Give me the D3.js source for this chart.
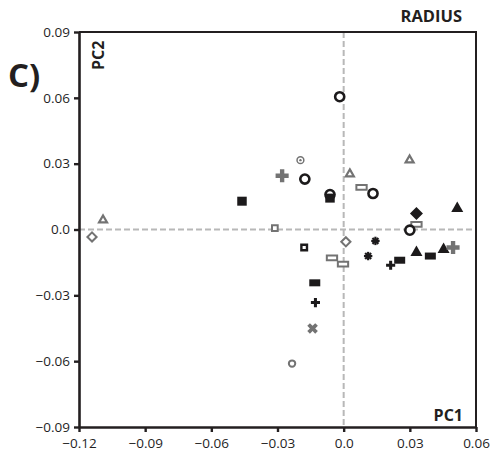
<!DOCTYPE html>
<html><head><meta charset="utf-8">
<script src="https://cdn.jsdelivr.net/npm/d3@7"></script>
<style>
body{margin:0;background:#fff}
svg{display:block}
text{font-family:"Open Sans",sans-serif}
</style>
</head><body>
<svg id="c" width="496" height="456"></svg>
<script>
// ---- data ----
const xTicks = [-0.12, -0.09, -0.06, -0.03, 0, 0.03, 0.06];
const yTicks = [-0.09, -0.06, -0.03, 0, 0.03, 0.06, 0.09];
const markers = [
  "gyDiaO","gyTriO","bkSquareF","gySquareO","bkSquareO","gyPlus","gyBull","bkCircle",
  "bkCircle","bkSquareF","bkCircle","gyTriO","gyRectO","bkCircle","gyTriO","bkTriF",
  "gyRectO","bkCircle","bkDiaF","gyDiaO","bkAst","bkAst","gyRectO","gyRectO",
  "bkRectF","bkPlus","gyX","gyCircleS","bkPlus","bkRectF","bkTriF","bkRectF",
  "bkTriF","gyPlus"
];
const pc1 = [
  -0.1141,-0.1091,-0.0461,-0.0312,-0.0179,-0.0279,-0.0196,-0.0176,
  -0.0062,-0.0062,-0.0018,0.0028,0.0081,0.0133,0.0299,0.0515,
  0.0330,0.0300,0.0330,0.0010,0.0144,0.0111,-0.0053,-0.0003,
  -0.0131,-0.0128,-0.0141,-0.0234,0.0213,0.0254,0.0330,0.0393,
  0.0453,0.0496
];
const pc2 = [
  -0.0034,0.0043,0.0129,0.0006,-0.0082,0.0245,0.0316,0.0230,
  0.0159,0.0143,0.0605,0.0253,0.0192,0.0164,0.0316,0.0096,
  0.0023,-0.0003,0.0073,-0.0056,-0.0052,-0.0121,-0.0129,-0.0158,
  -0.0243,-0.0333,-0.0451,-0.0611,-0.0163,-0.0140,-0.0105,-0.0121,
  -0.0091,-0.0082
];

// ---- layout ----
const svg = d3.select("#c");
const L = 79, R = 476, T = 32, B = 427;
const x = d3.scaleLinear().domain([-0.12, 0.06]).range([L, R]);
const y = d3.scaleLinear().domain([-0.09, 0.09]).range([B, T]);
const AX = "#231f20", BK = "#1c1a1b", GY = "#737373", ZL = "#b8b8b8";
const fmt = d => d === 0 ? "0.0" : d3.format(".2f")(d);

// zero lines
svg.append("line").attr("x1", x(0)).attr("x2", x(0)).attr("y1", T).attr("y2", B)
  .attr("stroke", ZL).attr("stroke-width", 2).attr("stroke-dasharray", "6,3");
svg.append("line").attr("x1", L).attr("x2", R).attr("y1", y(0)).attr("y2", y(0))
  .attr("stroke", ZL).attr("stroke-width", 2).attr("stroke-dasharray", "6,3");

// frame top/right
svg.append("path").attr("d", `M${L},${T}H${R}V${B}`).attr("fill", "none")
  .attr("stroke", AX).attr("stroke-width", 2);

// axes
const gx = svg.append("g").attr("transform", `translate(0,${B})`)
  .call(d3.axisBottom(x).tickValues(xTicks).tickFormat(fmt).tickSize(5).tickSizeOuter(0).tickPadding(6));
const gy = svg.append("g").attr("transform", `translate(${L},0)`)
  .call(d3.axisLeft(y).tickValues(yTicks).tickFormat(fmt).tickSize(5).tickSizeOuter(0).tickPadding(4));
[gx, gy].forEach(g => {
  g.select(".domain").attr("stroke", AX).attr("stroke-width", 2.6);
  g.selectAll(".tick line").attr("stroke", AX).attr("stroke-width", 2.4);
  g.selectAll(".tick text").attr("fill", "#1f1f1f").style("font-size", "13.5px")
    .style("font-family", "'Open Sans',sans-serif");
});

// labels
svg.append("text").attr("x", 8).attr("y", 87).text("C)")
  .style("font-size", "33px").style("font-weight", "700").attr("fill", AX);
svg.append("text").attr("transform", "translate(104,70) rotate(-90)").text("PC2")
  .style("font-size", "16px").style("font-weight", "700").attr("fill", AX);
svg.append("text").attr("x", 462).attr("y", 22).attr("text-anchor", "end").text("RADIUS")
  .style("font-size", "16.5px").style("font-weight", "700").attr("fill", AX);
svg.append("text").attr("x", 463).attr("y", 421).attr("text-anchor", "end").text("PC1")
  .style("font-size", "16px").style("font-weight", "700").attr("fill", AX);

// markers
const tri = s => `M0,${-s/Math.sqrt(3)}L${s/2},${s/(2*Math.sqrt(3))}L${-s/2},${s/(2*Math.sqrt(3))}Z`;
const dia = h => `M0,${-h}L${h},0L0,${h}L${-h},0Z`;
const rect = (w, h) => `M${-w/2},${-h/2}h${w}v${h}h${-w}Z`;

function draw(g, type) {
  switch (type) {
    case "bkCircle":
      g.append("circle").attr("r", 4.55).attr("fill", "#fff").attr("stroke", BK).attr("stroke-width", 2.6); break;
    case "gyCircleS":
      g.append("circle").attr("r", 3.2).attr("fill", "#fff").attr("stroke", GY).attr("stroke-width", 2); break;
    case "gyBull":
      g.append("circle").attr("r", 3.4).attr("fill", "#fff").attr("stroke", GY).attr("stroke-width", 1.5);
      g.append("circle").attr("r", 1.2).attr("fill", GY); break;
    case "bkSquareF":
      g.append("path").attr("d", rect(9.5, 9)).attr("fill", BK); break;
    case "bkRectF":
      g.append("path").attr("d", rect(11, 7)).attr("fill", BK); break;
    case "gyRectO":
      g.append("path").attr("d", rect(10.3, 4.7)).attr("fill", "#fff").attr("stroke", GY).attr("stroke-width", 2); break;
    case "gySquareO":
      g.append("path").attr("d", rect(5.7, 5.7)).attr("fill", "#fff").attr("stroke", GY).attr("stroke-width", 2); break;
    case "bkSquareO":
      g.append("path").attr("d", rect(5.6, 5.6)).attr("fill", "#fff").attr("stroke", BK).attr("stroke-width", 2.4); break;
    case "gyTriO":
      g.append("path").attr("d", tri(8)).attr("fill", "#fff").attr("stroke", GY).attr("stroke-width", 2.2); break;
    case "bkTriF":
      g.append("path").attr("d", tri(12)).attr("fill", BK); break;
    case "gyDiaO":
      g.append("path").attr("d", dia(4.6)).attr("fill", "#fff").attr("stroke", GY).attr("stroke-width", 2); break;
    case "bkDiaF":
      g.append("path").attr("d", dia(6.5)).attr("fill", BK); break;
    case "gyPlus":
      g.append("path").attr("d", d3.symbol(d3.symbolCross, 95)()).attr("fill", GY); break;
    case "bkPlus":
      g.append("path").attr("d", d3.symbol(d3.symbolCross, 46)()).attr("fill", BK); break;
    case "gyX":
      g.append("path").attr("d", d3.symbol(d3.symbolCross, 70)()).attr("transform", "rotate(45)").attr("fill", GY); break;
    case "bkAst":
      [0, 45, 90, 135].forEach(a => g.append("line").attr("x1", -4.2).attr("x2", 4.2)
        .attr("transform", `rotate(${a})`).attr("stroke", BK).attr("stroke-width", 2.2));
      g.append("circle").attr("r", 2.4).attr("fill", BK);
      break;
  }
}

const pts = svg.append("g");
markers.forEach((m, i) => {
  const g = pts.append("g").attr("transform", `translate(${x(pc1[i])},${y(pc2[i])})`);
  draw(g, m);
});
</script>
</body></html>
